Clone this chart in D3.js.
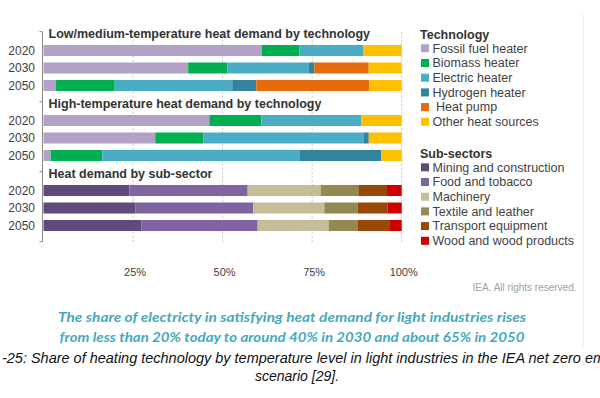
<!DOCTYPE html>
<html>
<head>
<meta charset="utf-8">
<script src="https://cdn.jsdelivr.net/npm/d3@7"></script>
<style>
  body { margin: 0; background: #fff; }
  text { font-family: "Liberation Sans", Arial, sans-serif; }
</style>
</head>
<body>
<div id="chart"></div>
<script>
// categories
const years = ["2020", "2030", "2050"];
const technologies = ["Fossil fuel heater", "Biomass heater", "Electric heater", "Hydrogen heater", "Heat pump", "Other heat sources"];
const techColors = ["#b3a2c7", "#00b050", "#4bacc6", "#31849b", "#e46c0a", "#ffc000"];
const sectors = ["Mining and construction", "Food and tobacco", "Machinery", "Textile and leather", "Transport equipment", "Wood and wood products"];
const sectorColors = ["#604a7b", "#8064a2", "#c4bd97", "#938953", "#984807", "#d00000"];
const groupTitles = ["Low/medium-temperature heat demand by technology", "High-temperature heat demand by technology", "Heat demand by sub-sector"];
const tickValues = [25, 50, 75, 100];

// shares (%) per year, in the order of technologies / sectors
const lowMedTemp = [
  [61.0, 10.5, 17.7, 0, 0, 10.8],
  [40.4, 10.9, 22.8, 1.5, 15.2, 9.2],
  [3.5, 16.4, 32.8, 6.7, 31.6, 9.0]
];
const highTemp = [
  [46.3, 14.5, 27.9, 0, 0, 11.3],
  [31.2, 13.4, 44.7, 1.5, 0, 9.2],
  [2.0, 14.4, 55.2, 22.7, 0, 5.7]
];
const bySector = [
  [24.0, 33.0, 20.4, 10.5, 8.0, 4.1],
  [25.6, 33.0, 19.8, 9.3, 8.4, 3.9],
  [27.4, 32.4, 19.8, 8.2, 8.7, 3.5]
];

const svg = d3.select("#chart").append("svg")
  .attr("width", 600)
  .attr("height", 398);

const groups = [
  { title: groupTitles[0], values: lowMedTemp, colors: techColors },
  { title: groupTitles[1], values: highTemp, colors: techColors },
  { title: groupTitles[2], values: bySector, colors: sectorColors }
];

// 12 rows: a title row then 3 year rows per group
const rows = [];
groups.forEach((g, gi) => {
  rows.push("t" + gi);
  years.forEach(yr => rows.push(gi + "-" + yr));
});

const x = d3.scaleLinear().domain([0, 100]).range([43.5, 401.7]);
const y = d3.scaleBand().domain(rows).range([24.25, 234.25])
  .paddingInner(0.37).paddingOuter(0.185);

const axisOffset = 4.2;

// gridlines
svg.append("g").selectAll("line")
  .data(tickValues).enter().append("line")
  .attr("x1", d => x(d)).attr("x2", d => x(d))
  .attr("y1", y(rows[0]) + axisOffset)
  .attr("y2", y(rows[0]) + axisOffset + y.step() * 12)
  .attr("stroke", "#c4c4c4")
  .attr("stroke-dasharray", "2,2");

// tick labels
svg.append("g").selectAll("text")
  .data(tickValues).enter().append("text")
  .attr("x", d => x(d) + 2)
  .attr("y", 272)
  .attr("dy", "0.35em")
  .attr("text-anchor", "middle")
  .attr("font-size", 11)
  .attr("fill", "#404040")
  .text(d => d + "%");

// bars
groups.forEach((g, gi) => {
  g.values.forEach((vals, yi) => {
    let cum = 0;
    const segs = vals.map((v, i) => {
      const s = { x0: cum, x1: cum + v, color: g.colors[i] };
      cum += v;
      return s;
    }).filter(s => s.x1 > s.x0);

    svg.append("g").selectAll("rect")
      .data(segs).enter().append("rect")
      .attr("x", d => x(d.x0))
      .attr("width", d => x(d.x1) - x(d.x0))
      .attr("y", y(gi + "-" + years[yi]))
      .attr("height", y.bandwidth())
      .attr("fill", d => d.color);

    svg.append("text")
      .attr("x", 35)
      .attr("y", y(gi + "-" + years[yi]) + y.bandwidth() / 2)
      .attr("dy", "0.35em")
      .attr("text-anchor", "end")
      .attr("font-size", 12)
      .attr("fill", "#404040")
      .text(years[yi]);
  });

  svg.append("text")
    .attr("x", 48.5)
    .attr("y", y("t" + gi) + y.bandwidth() / 2 + 0.5)
    .attr("dy", "0.35em")
    .attr("font-size", 12.5)
    .attr("font-weight", "bold")
    .attr("fill", "#333")
    .text(g.title);
});

// left axis line and group ticks
const axisG = svg.append("g").attr("stroke", "#8a8a8a");
axisG.append("line")
  .attr("x1", 42.5).attr("x2", 42.5)
  .attr("y1", y(rows[0]) + axisOffset)
  .attr("y2", y(rows[0]) + axisOffset + y.step() * 12);
axisG.selectAll(".tk")
  .data([0, 4, 8, 12]).enter().append("line")
  .attr("x1", 39.5).attr("x2", 42.5)
  .attr("y1", d => y(rows[0]) + axisOffset + y.step() * d)
  .attr("y2", d => y(rows[0]) + axisOffset + y.step() * d);

// legends
function legend(title, labels, colors, top) {
  const lg = svg.append("g");
  lg.append("text")
    .attr("x", 420).attr("y", top)
    .attr("dy", "0.35em")
    .attr("font-size", 12.5)
    .attr("font-weight", "bold")
    .attr("fill", "#333")
    .text(title);
  labels.forEach((l, i) => {
    const cy = top + 13.3 + i * 14.7;
    lg.append("rect")
      .attr("x", 421).attr("y", cy - 4)
      .attr("width", 8).attr("height", 8)
      .attr("fill", colors[i]);
    lg.append("text")
      .attr("x", 432.5).attr("y", cy)
      .attr("dy", "0.35em")
      .attr("font-size", 12.5)
      .attr("fill", "#3f3f3f")
      .style("white-space", "pre")
      .text(l === "Heat pump" ? " " + l : l);
  });
}
legend("Technology", technologies, techColors, 35);
legend("Sub-sectors", sectors, sectorColors, 154);

// right frame line
svg.append("line")
  .attr("x1", 583).attr("x2", 583)
  .attr("y1", 14).attr("y2", 347)
  .attr("stroke", "#ebebeb");

svg.append("text")
  .attr("x", 576.5).attr("y", 287)
  .attr("dy", "0.35em")
  .attr("text-anchor", "end")
  .attr("font-size", 10)
  .attr("fill", "#a0a0a0")
  .text("IEA. All rights reserved.");

// teal caption
const captionLines = [
  "The share of electricty in satisfying heat demand for light industries rises",
  "from less than 20% today to around 40% in 2030 and about 65% in 2050"
];
svg.append("g").selectAll("text")
  .data(captionLines).enter().append("text")
  .attr("x", 292)
  .attr("y", (d, i) => 317 + i * 20)
  .attr("dy", "0.35em")
  .attr("text-anchor", "middle")
  .attr("textLength", (d, i) => i === 0 ? 468 : 465)
  .attr("lengthAdjust", "spacingAndGlyphs")
  .attr("font-size", 14)
  .attr("font-style", "italic")
  .attr("font-weight", "bold")
  .attr("fill", "#45a9bc")
  .style("font-family", "Lato, sans-serif")
  .text(d => d);

// figure caption
svg.append("text")
  .attr("x", 2).attr("y", 358)
  .attr("dy", "0.35em")
  .attr("textLength", 603)
  .attr("lengthAdjust", "spacingAndGlyphs")
  .attr("font-size", 14)
  .attr("font-style", "italic")
  .attr("fill", "#111")
  .text("-25: Share of heating technology by temperature level in light industries in the IEA net zero em");
svg.append("text")
  .attr("x", 297).attr("y", 376)
  .attr("dy", "0.35em")
  .attr("text-anchor", "middle")
  .attr("font-size", 14)
  .attr("font-style", "italic")
  .attr("fill", "#111")
  .text("scenario [29].");
</script>
</body>
</html>
